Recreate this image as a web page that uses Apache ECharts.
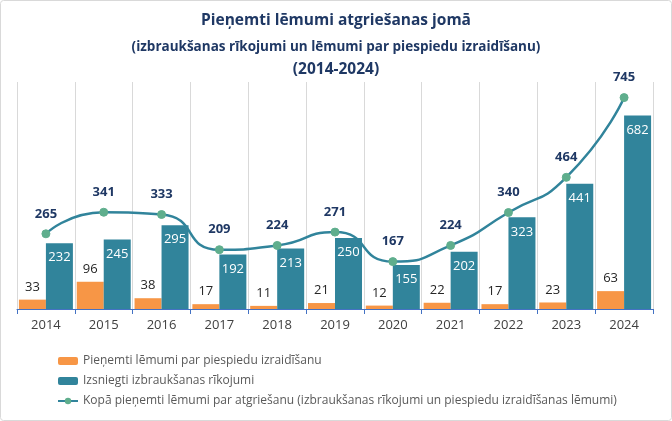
<!DOCTYPE html>
<html><head><meta charset="utf-8">
<script src="https://cdn.jsdelivr.net/npm/echarts@6/dist/echarts.min.js"></script>
<style>html,body{margin:0;padding:0;background:#fff}#c{width:672px;height:421px}</style>
</head><body><div id="c"></div>
<script>
const years = ['2014','2015','2016','2017','2018','2019','2020','2021','2022','2023','2024'];
const forced = [33,96,38,17,11,21,12,22,17,23,63];
const orders = [232,245,295,192,213,250,155,202,323,441,682];
const total = [265,341,333,209,224,271,167,224,340,464,745];
const names = ['Pieņemti lēmumi par piespiedu izraidīšanu','Izsniegti izbraukšanas rīkojumi','Kopā pieņemti lēmumi par atgriešanu (izbraukšanas rīkojumi un piespiedu izraidīšanas lēmumi)'];
const F = 'Open Sans, Noto Sans, sans-serif';
const chart = echarts.init(document.getElementById('c'));
chart.setOption({
  animation:false,
  backgroundColor:'#fff',
  graphic:[{type:'rect',shape:{x:0.5,y:0.5,width:671,height:420,r:3},style:{fill:'none',stroke:'#d9d9d9',lineWidth:1},silent:true}],
  title:[
    {text:'Pieņemti lēmumi atgriešanas jomā',left:'center',top:8,textStyle:{fontFamily:F,fontSize:15.5,fontWeight:'bold',color:'#1F3864'}},
    {text:'(izbraukšanas rīkojumi un lēmumi par piespiedu izraidīšanu)',left:'center',top:35,textStyle:{fontFamily:F,fontSize:13.5,fontWeight:'bold',color:'#1F3864'}},
    {text:'(2014-2024)',left:'center',top:57,textStyle:{fontFamily:F,fontSize:15.5,fontWeight:'bold',color:'#1F3864'}}
  ],
  legend:{orient:'vertical',left:52,top:350,itemGap:8,itemWidth:20,itemHeight:8,
    textStyle:{fontFamily:F,fontSize:12,color:'#595959'},
    data:names},
  grid:{left:17,right:19,top:82,bottom:112},
  xAxis:{type:'category',data:years,boundaryGap:true,
    axisLine:{lineStyle:{color:'#4472C4',width:1}},
    axisTick:{show:true,length:5,lineStyle:{color:'#4472C4'}},
    axisLabel:{fontFamily:F,fontSize:13,color:'#404040',margin:10},
    splitLine:{show:true,lineStyle:{color:'#d9d9d9',width:1}}},
  yAxis:{type:'value',min:0,max:800,show:false,splitLine:{show:false}},
  series:[
    {name:names[0],type:'bar',data:forced,barWidth:27,barGap:'0%',
      itemStyle:{color:'#F79646'},
      label:{show:true,position:'top',distance:6,fontFamily:F,fontSize:13,color:'#262626'}},
    {name:names[1],type:'bar',data:orders,barWidth:27,
      itemStyle:{color:'#31849B'},
      label:{show:true,position:'insideTop',distance:8,fontFamily:F,fontSize:13,color:'#fff'}},
    {name:names[2],type:'line',data:total,smooth:0.6,symbol:'circle',symbolSize:8,
      lineStyle:{color:'#31849B',width:2.5},
      itemStyle:{color:'#5FAE8D',borderColor:'#5FAE8D'},
      label:{show:true,position:'top',distance:9,fontFamily:F,fontSize:13,fontWeight:'bold',color:'#1F3864'}}
  ]
});
</script></body></html>
